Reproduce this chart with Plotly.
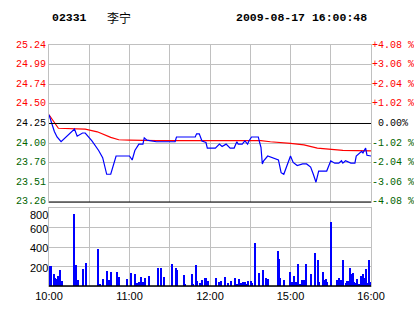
import plotly.graph_objects as go

# ---------------- data ----------------
stock_code = "02331"
stock_name = "李宁"
timestamp = "2009-08-17 16:00:48"
prev_close = 24.25
pct_steps = [4, 3, 2, 1, 0, -1, -2, -3, -4]          # multiples of 1.02 %
pct_unit = 1.02

# minutes since 10:00 on a compressed trading axis (lunch break removed)
session_ticks = [0, 30, 60, 90, 120, 150, 180, 210, 240]
session_labels = ["10:00", "", "11:00", "", "12:00", "", "15:00", "", "16:00"]

price_t = [0, 4, 6, 9, 19, 21, 25, 27, 32, 37, 40, 43, 46, 50, 60, 62, 64, 67, 70, 71,
           73, 80, 94, 95, 109, 110, 112, 114, 117, 118, 124, 127, 129, 132, 135, 138,
           140, 141, 144, 146, 148, 149, 151, 156, 157, 158, 159, 160, 163, 167, 171,
           173, 175, 180, 182, 185, 189, 192, 195, 197, 199, 201, 207, 210, 213, 216,
           218, 219, 221, 225, 228, 229, 231, 233, 234, 236, 237, 240]
price_v = [24.36, 24.15, 24.08, 24.02, 24.18, 24.09, 24.13, 24.13, 24.03, 23.91, 23.82,
           23.61, 23.61, 23.84, 23.84, 23.79, 23.91, 23.99, 23.99, 24.07, 24.04, 24.02,
           24.02, 24.08, 24.08, 24.12, 24.12, 24.03, 24.01, 23.94, 23.94, 23.99, 23.96,
           23.99, 23.94, 23.94, 24.02, 23.99, 23.99, 24.03, 23.99, 24.03, 24.08, 24.08,
           24.01, 23.95, 23.74, 23.78, 23.84, 23.81, 23.79, 23.63, 23.61, 23.84, 23.76,
           23.72, 23.74, 23.74, 23.70, 23.61, 23.51, 23.65, 23.65, 23.78, 23.75, 23.75,
           23.78, 23.75, 23.78, 23.75, 23.75, 23.84, 23.87, 23.90, 23.88, 23.94, 23.85,
           23.84]

avg_t = [0, 3, 7, 27, 36, 46, 52, 60, 80, 158, 165, 180, 190, 200, 219, 240]
avg_v = [24.36, 24.28, 24.19, 24.18, 24.145, 24.075, 24.045, 24.04, 24.035, 24.035,
         24.02, 24.00, 23.98, 23.94, 23.91, 23.905]

vol_t = [0, 1, 3, 4, 5, 6, 8, 9, 18, 20, 21, 25, 27, 36, 38, 40, 43, 44, 46, 50, 52, 58,
         61, 64, 65, 67, 68, 70, 71, 74, 81, 83, 85, 91, 94, 95, 100, 101, 106, 107, 109,
         110, 112, 114, 116, 117, 118, 124, 126, 127, 128, 131, 133, 135, 138, 140, 141,
         143, 144, 146, 147, 148, 150, 151, 153, 156, 159, 161, 163, 170, 171, 172, 175,
         179, 181, 182, 183, 184, 185, 187, 188, 189, 190, 191, 195, 198, 200, 201, 204,
         205, 206, 207, 210, 214, 216, 217, 218, 219, 221, 222, 223, 224, 225, 226, 227,
         228, 229, 230, 231, 232, 233, 234, 235, 236, 237, 238, 239]
vol_v = [203, 203, 122, 81, 71, 102, 163, 51, 742, 213, 61, 173, 234, 376, 20, 71, 153, 61,
         142, 142, 92, 71, 132, 122, 31, 41, 92, 41, 81, 102, 183, 183, 92, 224, 183, 163,
         112, 20, 122, 20, 213, 51, 31, 61, 81, 81, 51, 81, 41, 31, 51, 92, 31, 51, 81, 20,
         71, 31, 41, 41, 20, 51, 51, 31, 437, 132, 163, 81, 71, 356, 275, 81, 61, 142, 41,
         102, 20, 41, 224, 20, 61, 31, 61, 224, 122, 336, 264, 41, 142, 61, 71, 41, 651,
         61, 81, 61, 61, 264, 31, 51, 51, 183, 122, 132, 41, 31, 71, 20, 20, 102, 51, 122,
         81, 173, 31, 264, 41]
vol_ticks = [200, 400, 600, 800]

# ---------------- styling ----------------
RED = "#ff0000"
GREEN = "#006400"
BLUE = "#0000ff"
GRID = "#c0c0c0"
MONO = "Liberation Mono"
SANS = "Liberation Sans"

step = prev_close * pct_unit / 100.0
levels = [prev_close + k * step for k in pct_steps]
y_lo, y_hi = min(levels), max(levels)
vol_max = max(vol_ticks)

fig = go.Figure()

fig.add_trace(go.Scatter(x=avg_t, y=avg_v, mode="lines",
                         line=dict(color=RED, width=1.2), xaxis="x", yaxis="y",
                         hoverinfo="skip"))
fig.add_trace(go.Scatter(x=price_t, y=price_v, mode="lines",
                         line=dict(color=BLUE, width=1.2), xaxis="x", yaxis="y",
                         hoverinfo="skip"))
fig.add_trace(go.Bar(x=vol_t, y=vol_v, width=0.8, offset=0,
                     marker=dict(color=BLUE, line=dict(width=0)),
                     xaxis="x2", yaxis="y2", hoverinfo="skip"))

axis_common = dict(showgrid=True, gridcolor=GRID, gridwidth=1, zeroline=False,
                   showline=True, linecolor=GRID, linewidth=1, mirror=True,
                   ticks="", fixedrange=True)

fig.update_layout(
    width=414, height=314,
    margin=dict(l=49, r=43, t=45, b=26),
    paper_bgcolor="white", plot_bgcolor="white",
    showlegend=False, bargap=0,
    xaxis=dict(domain=[0, 1], range=[0, 240], tickvals=session_ticks,
               showticklabels=False, anchor="y", **axis_common),
    yaxis=dict(domain=[0.3486, 1], range=[y_lo, y_hi], tickvals=levels,
               showticklabels=False, anchor="x", **axis_common),
    xaxis2=dict(domain=[0, 1], range=[0, 240], tickvals=session_ticks,
                ticktext=session_labels, anchor="y2",
                tickfont=dict(family=SANS, size=11, color="black"), **axis_common),
    yaxis2=dict(domain=[0, 0.3222], range=[0, vol_max], tickvals=vol_ticks,
                showticklabels=False, anchor="x2", **axis_common),
)

# black reference lines: previous close and bottom of price panel, bottom of volume panel
fig.add_shape(type="line", xref="x domain", yref="y", x0=0, x1=1, y0=prev_close,
              y1=prev_close, line=dict(color="black", width=1))
fig.add_shape(type="line", xref="x domain", yref="y domain", x0=0, x1=1, y0=0, y1=0,
              line=dict(color="black", width=1))
fig.add_shape(type="line", xref="x2 domain", yref="y2 domain", x0=0, x1=1, y0=0, y1=0,
              line=dict(color="black", width=1.5))

# volume labels (top one sits just inside the panel)
for v in vol_ticks:
    fig.add_annotation(x=0, xref="paper", xanchor="right", xshift=1,
                       y=v, yref="y2", yanchor="top" if v == vol_max else "middle",
                       yshift=1 if v == vol_max else -1, showarrow=False,
                       text=str(v), font=dict(family=SANS, size=11, color="black"))

# price labels (left) and percent labels (right)
for k, lv in zip(pct_steps, levels):
    col = RED if k > 0 else ("black" if k == 0 else GREEN)
    fig.add_annotation(x=0, xref="paper", xanchor="right", xshift=-1,
                       y=lv, yref="y", yanchor="middle", showarrow=False,
                       text=f"{lv:.2f}", font=dict(family=MONO, size=10, color=col))
    if k > 0:
        pt = f"+{k * pct_unit:.2f} %"
    elif k < 0:
        pt = f"-{abs(k) * pct_unit:.2f} %"
    else:
        pt = f"&nbsp;{0:.2f}%"
    fig.add_annotation(x=1, xref="paper", xanchor="left", xshift=-1,
                       y=lv, yref="y", yanchor="middle", showarrow=False,
                       text=pt, font=dict(family=MONO, size=10, color=col))

# header
fig.add_annotation(x=0.003, y=1.115, xref="paper", yref="paper", xanchor="left",
                   yanchor="middle", showarrow=False, text=f"<b>{stock_code}</b>",
                   font=dict(family=MONO, size=11.5, color="black"))
fig.add_annotation(x=0.174, y=1.115, xref="paper", yref="paper", xanchor="left",
                   yanchor="middle", showarrow=False, text=stock_name,
                   font=dict(family="Noto Sans CJK SC", size=12, color="black"))
fig.add_annotation(x=0.995, y=1.115, xref="paper", yref="paper", xanchor="right",
                   yanchor="middle", showarrow=False, text=f"<b>{timestamp}</b>",
                   font=dict(family=MONO, size=11.5, color="black"))

fig.write_html("out.html", config={"displayModeBar": False})
